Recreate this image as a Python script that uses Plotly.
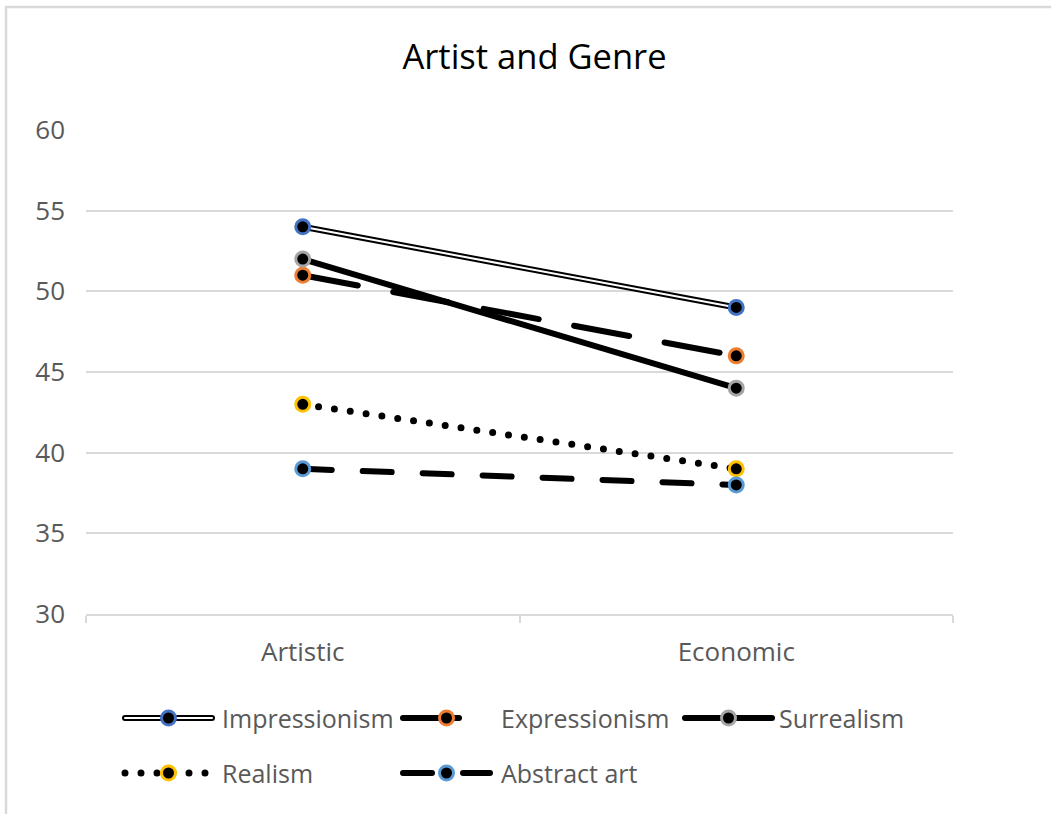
import plotly.graph_objects as go

# ---- data -------------------------------------------------------------
categories = ["Artistic", "Economic"]
impressionism = [54, 49]
expressionism = [51, 46]
surrealism = [52, 44]
realism = [43, 39]
abstract_art = [39, 38]
y_ticks = [30, 35, 40, 45, 50, 55, 60]

# ---- layout geometry (pixels) ----------------------------------------
W, H = 1051, 814
L, R, T, B = 86, 98, 130, 20
plot_w = W - L - R
plot_h = H - T - B
axis_bottom_px = 614
main_domain0 = (H - B - axis_bottom_px) / plot_h

FONT = "Open Sans"
GRID = "#D9D9D9"
TXT = "#595959"


def px_x(px):
    return (px - L) / plot_w


def px_y(py):
    return (H - B - py) / plot_h


series = [
    dict(name="Impressionism", values=impressionism, ring="#4472C4", dash="solid", width=6, double=True),
    dict(name="Expressionism", values=expressionism, ring="#ED7D31", dash="56px,36px", width=6, double=False),
    dict(name="Surrealism", values=surrealism, ring="#A5A5A5", dash="solid", width=6, double=False),
    dict(name="Realism", values=realism, ring="#FFC000", dash="0px,16px", width=7, double=False),
    dict(name="Abstract art", values=abstract_art, ring="#5B9BD5", dash="29px,31px", width=6, double=False),
]

# legend slots: (swatch left, swatch right, text left, row centre)
legend_slots = [
    (125, 212, 220, 718),
    (403, 490, 499, 718),
    (685, 772, 777, 718),
    (125, 212, 220, 773),
    (403, 490, 499, 773),
]

fig = go.Figure()


def add_series(s, x, y, xa, ya, marker_x, marker_y):
    fig.add_trace(go.Scatter(
        x=x, y=y, xaxis=xa, yaxis=ya, mode="lines", showlegend=False, hoverinfo="skip",
        line=dict(color="black", width=s["width"], dash=s["dash"]),
    ))
    if s["double"]:
        fig.add_trace(go.Scatter(
            x=x, y=y, xaxis=xa, yaxis=ya, mode="lines", showlegend=False, hoverinfo="skip",
            line=dict(color="white", width=2),
        ))
    fig.add_trace(go.Scatter(
        x=marker_x, y=marker_y, xaxis=xa, yaxis=ya, mode="markers", showlegend=False,
        name=s["name"],
        marker=dict(symbol="circle", size=14, color="black", line=dict(color=s["ring"], width=3)),
    ))


# chart lines
for s in series:
    add_series(s, categories, s["values"], "x", "y", categories, s["values"])

# legend swatches and labels
annotations = []
for s, (x0, x1, tx, ry) in zip(series, legend_slots):
    mid = (x0 + x1) / 2
    add_series(s, [x0, x1], [ry, ry], "x2", "y2", [mid], [ry])
    annotations.append(dict(
        x=tx, y=ry, xref="x2", yref="y2", text=s["name"], showarrow=False,
        xanchor="left", yanchor="middle", font=dict(family=FONT, size=25, color=TXT),
    ))

fig.update_layout(
    width=W, height=H,
    margin=dict(l=L, r=R, t=T, b=B, autoexpand=False),
    paper_bgcolor="white", plot_bgcolor="white",
    font=dict(family=FONT, color=TXT),
    title=dict(
        text="Artist and Genre", x=534.5 / W, xref="container", xanchor="center",
        y=1 - 57 / H, yref="container", yanchor="middle",
        font=dict(family=FONT, size=34.5, color="#000000"),
    ),
    xaxis=dict(
        type="category", domain=[0, 1], anchor="y", range=[-0.5, 1.5], automargin=False,
        showgrid=False, showline=True, linecolor=GRID, linewidth=2,
        ticks="outside", tickson="boundaries", ticklen=7, tickcolor=GRID, tickwidth=2,
        tickfont=dict(family=FONT, size=26, color=TXT), ticklabelstandoff=14,
    ),
    yaxis=dict(
        domain=[main_domain0, 1], anchor="x", range=[30, 60], automargin=False,
        tickvals=y_ticks, showgrid=True, gridcolor=GRID, gridwidth=1.5,
        zeroline=False, showline=False, ticks="",
        tickfont=dict(family=FONT, size=26, color=TXT), ticklabelstandoff=20,
    ),
    xaxis2=dict(domain=[0, 1], anchor="y2", range=[L, W - R], visible=False,
                fixedrange=True, automargin=False),
    yaxis2=dict(domain=[0, main_domain0], anchor="x2", range=[H - B, axis_bottom_px],
                visible=False, fixedrange=True, automargin=False),
    annotations=annotations,
    shapes=[dict(
        type="rect", xref="paper", yref="paper",
        x0=px_x(6), x1=px_x(W + 40), y0=px_y(H + 40), y1=px_y(7),
        line=dict(color=GRID, width=2.5), fillcolor="rgba(0,0,0,0)", layer="below",
    )],
)

round_caps = (
    "var st=document.createElement('style');"
    "st.textContent='.scatterlayer .js-line{stroke-linecap:round;}';"
    "document.head.appendChild(st);"
)
fig.write_html("out.html", post_script=round_caps)
